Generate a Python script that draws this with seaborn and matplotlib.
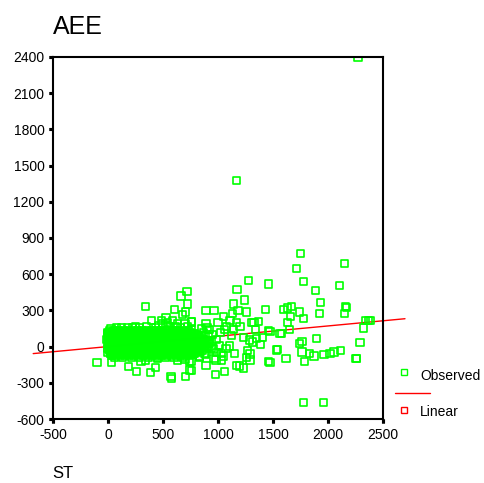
import numpy as np
import pandas as pd
import matplotlib
matplotlib.use("Agg")
import matplotlib.pyplot as plt
import seaborn as sns
from matplotlib.lines import Line2D
from matplotlib.markers import TICKLEFT, TICKDOWN

# scattered points (ST, AEE)
out_x = [2273, 1170, 1751, 1715, 2148, 1279, 1776, 1455, 1173, 2103, 1885, 718, 664, 1243, 1933,
         1145, 724, 345, 2161, 2170, 891, 964, 1182, 1436, 1594, 1636, 1667, 603, 1255, 1739,
         706, 1921, 1133, 2152, 676, 1661, 1048, 527, 1776, 397, 585, 485, 1109, 2345, 2366,
         2388, 758, 1370, 755, 1630, 1170, 1309, 1000, 1327, 891, 633, 700, 1079, 1200, 221,
         2321, 1648, 1061, 1139, 1339, 1455, 1473, 1576, 1564, 1121, 1230, 1406, 1352, 1897, 1285,
         1764, 1315, 2291, 1739, 1388, 1103, 1073, 1539, 1533, 1267, 2115, 1764, 2055, 1836, 2018,
         1152, 1036, 885, 1291, 1964, 1873, 1048, 836, 1255, 2261, 1618, 2255, 964, 452, 700,
         982, 1030, 1291, 633, 343, 1461, 761, 745, 300, 1788, 1473, -100, 34, 891, 1170,
         1194, 185, 433, 1230, 745, 761, 257, 1061, 385, 976, 573, 706, 579, 1776, 1957]
out_y = [2395, 1380, 773, 651, 685, 550, 541, 519, 475, 508, 463, 458, 419, 386, 364,
         353, 353, 334, 331, 325, 297, 297, 297, 309, 309, 320, 331, 309, 287, 287,
         287, 276, 276, 276, 264, 253, 248, 237, 231, 220, 220, 215, 220, 220, 220,
         220, 210, 210, 204, 198, 198, 198, 198, 198, 193, 187, 187, 165, 165, 160,
         154, 143, 138, 138, 138, 132, 127, 110, 110, 94, 77, 77, 66, 65, 55,
         44, 38, 33, 22, 16, 5, -12, -22, -28, -34, -34, -45, -45, -56, -56,
         -56, -56, -61, -61, -67, -78, -78, -89, -89, -97, -97, -100, -100, -100, -105,
         -111, -111, -111, -117, -117, -122, -122, -122, -122, -122, -128, -128, -128, -155, -155,
         -161, -166, -172, -177, -194, -200, -205, -205, -216, -233, -244, -249, -266, -465, -465]

# dense core of the cloud, one list of ST values per AEE level
core_levels = [135, 120, 105, 90, 75, 60, 45, 30, 15, 0, -15, -30, -45, -60, -75, -90,
               127, 112, 97, 82, 67, 52, 37, 22, 7, -8, -23, -38, -53, -68]
core_rows = [
    [15, 60, 95, 140, 180, 230, 270, 310, 350, 395, 440, 480, 525, 560, 600, 640, 690, 730],
    [0, 35, 75, 115, 160, 200, 245, 285, 330, 370, 410, 455, 495, 535, 575, 615, 660, 705, 750],
    [-5, 30, 70, 105, 150, 190, 225, 265, 300, 345, 380, 420, 460, 500, 545, 580, 625, 660, 700, 740, 790],
    [0, 40, 80, 120, 155, 200, 240, 280, 320, 355, 400, 435, 475, 515, 555, 595, 635, 675, 715, 760, 810, 850],
    [15, 55, 95, 130, 175, 220, 260, 300, 340, 380, 420, 455, 495, 540, 580, 620, 655, 695, 740, 785, 830],
    [-10, 25, 60, 100, 135, 175, 215, 250, 290, 330, 370, 410, 450, 490, 530, 570, 610, 650, 690, 735, 775, 820, 870],
    [5, 45, 85, 120, 160, 200, 235, 275, 315, 355, 390, 430, 470, 510, 550, 590, 630, 670, 710, 750, 795, 840, 890],
    [-8, 30, 70, 110, 145, 185, 225, 260, 300, 340, 380, 415, 455, 495, 535, 575, 615, 655, 695, 740, 780, 825, 870, 920],
    [20, 60, 100, 140, 180, 220, 262, 300, 342, 380, 420, 460, 500, 540, 580, 620, 660, 700, 742, 785, 830, 875],
    [10, 50, 90, 130, 165, 205, 245, 285, 325, 360, 400, 440, 480, 520, 560, 600, 640, 680, 720, 765, 805, 850, 900],
    [-5, 35, 75, 115, 150, 190, 230, 270, 310, 350, 385, 425, 465, 505, 545, 585, 625, 665, 705, 745, 790, 835, 880, 940],
    [15, 55, 95, 135, 175, 215, 255, 295, 335, 370, 410, 450, 490, 530, 570, 610, 650, 690, 730, 770, 815, 860],
    [0, 40, 80, 120, 160, 200, 240, 280, 320, 360, 400, 440, 480, 520, 560, 600, 640, 680, 720, 760, 800],
    [20, 60, 100, 140, 180, 220, 260, 300, 340, 380, 420, 460, 500, 540, 580, 620, 660, 700, 745, 790],
    [30, 70, 110, 150, 195, 235, 275, 320, 360, 405, 445, 490, 530, 575, 620, 660, 700, 740],
    [60, 130, 210, 290, 370, 450, 520, 600, 680],
    [38, 118, 205, 290, 372, 455, 540, 622, 708],
    [18, 92, 180, 262, 350, 432, 518, 600, 682, 768],
    [12, 88, 170, 248, 325, 412, 488, 565, 645, 725, 812],
    [20, 102, 180, 262, 338, 418, 498, 578, 655, 738, 830],
    [8, 82, 158, 238, 318, 398, 475, 555, 632, 715, 800],
    [25, 105, 185, 265, 345, 425, 505, 585, 665, 745, 825, 905],
    [10, 92, 172, 252, 332, 410, 492, 572, 652, 732, 815, 895],
    [28, 108, 188, 268, 348, 428, 508, 588, 668, 748, 830, 912],
    [12, 92, 172, 252, 332, 412, 492, 572, 652, 732, 812, 885],
    [30, 110, 190, 270, 350, 430, 510, 590, 670, 752, 832, 915],
    [15, 95, 175, 255, 335, 415, 495, 575, 655, 735, 818],
    [35, 115, 195, 275, 355, 435, 515, 595, 675, 755, 840],
    [20, 100, 180, 260, 340, 420, 500, 580, 660, 740, 780],
    [45, 125, 205, 285, 365, 445, 525, 605, 685, 765],
]
# points along the upper edge and right tail of the core
edge_x = [27, 80, 120, 180, 250, 290, 350, 430, 460, 500, 540, 560, 610, 660, 720, 761,
          870, 910, 940, 960, 990, 1010, 925, 880, 950, 985, 1020, 900, 850, 830]
edge_y = [148, 155, 162, 158, 165, 160, 165, 160, 175, 190, 200, 170, 165, 160, 165, 138,
          120, 80, 40, -20, 60, 10, 140, -60, 100, -50, 120, 160, 150, -80]

x_ticks = [-500, 0, 500, 1000, 1500, 2000, 2500]
y_ticks = [-600, -300, 0, 300, 600, 900, 1200, 1500, 1800, 2100, 2400]

# linear fit
fit_intercept = 0.2
fit_slope = 0.0855
fit_x = [-680, 2700]

core_x = [x for row in core_rows for x in row]
core_y = [lv for lv, row in zip(core_levels, core_rows) for _ in row]
df = pd.DataFrame({"ST": out_x + core_x + edge_x, "AEE": out_y + core_y + edge_y})
fit = pd.DataFrame({"ST": fit_x})
fit["AEE"] = fit_intercept + fit_slope * fit["ST"]

sns.set_style("ticks")
plt.rcParams["font.family"] = ["Liberation Sans", "DejaVu Sans"]
plt.rcParams["axes.unicode_minus"] = False
plt.rcParams["text.color"] = "black"

fig = plt.figure(figsize=(4.84, 4.83), dpi=100)
ax = fig.add_axes([0.1095, 0.1325, 0.6818, 0.7495])

sns.lineplot(data=fit, x="ST", y="AEE", color="#ff0000", linewidth=1.0, clip_on=False, ax=ax, zorder=1)
sns.scatterplot(data=df, x="ST", y="AEE", marker="s", s=26, facecolor="none",
                edgecolor="#00ff00", linewidth=1.2, ax=ax, zorder=2)

ax.set_xlim(-500, 2500)
ax.set_ylim(-600, 2400)
ax.set_xticks(x_ticks)
ax.set_yticks(y_ticks)
ax.set_xlabel("")
ax.set_ylabel("")
for sp in ax.spines.values():
    sp.set_visible(True)
    sp.set_color("black")
    sp.set_linewidth(1.5)
ax.tick_params(bottom=True, left=True, top=False, right=False, direction="out",
               length=3.2, width=2.2, color="black", labelcolor="black", labelsize=10, pad=3)

# small square tick marks outside the frame, SPSS style
ax.plot([0] * len(y_ticks), y_ticks, transform=ax.get_yaxis_transform(), linestyle="none",
        marker=TICKLEFT, markersize=3.2, markeredgewidth=2.2, color="black", clip_on=False, zorder=5)
ax.plot(x_ticks, [0] * len(x_ticks), transform=ax.get_xaxis_transform(), linestyle="none",
        marker=TICKDOWN, markersize=3.2, markeredgewidth=2.2, color="black", clip_on=False, zorder=5)

fig.text(53 / 484, 1 - 34 / 483, "AEE", fontsize=18, ha="left", va="baseline")
fig.text(52 / 484, 1 - 466 / 483, "ST", fontsize=12, ha="left", va="top")

# SPSS style legend
def fx(px):
    return px / 484

def fy(py):
    return 1 - py / 483

fig.add_artist(Line2D([fx(404)], [fy(372)], marker="s", markersize=4.5, markerfacecolor="none",
                      markeredgecolor="#00ff00", markeredgewidth=1.0, linestyle="none"))
fig.add_artist(Line2D([fx(395), fx(430)], [fy(393), fy(393)], color="#ff0000", linewidth=1.0))
fig.add_artist(Line2D([fx(404)], [fy(410)], marker="s", markersize=4.5, markerfacecolor="none",
                      markeredgecolor="#ff0000", markeredgewidth=1.0, linestyle="none"))
fig.text(fx(420), fy(376), "Observed", fontsize=10, ha="left", va="center")
fig.text(fx(420), fy(412), "Linear", fontsize=10, ha="left", va="center")

fig.savefig("out.png", dpi=100)
